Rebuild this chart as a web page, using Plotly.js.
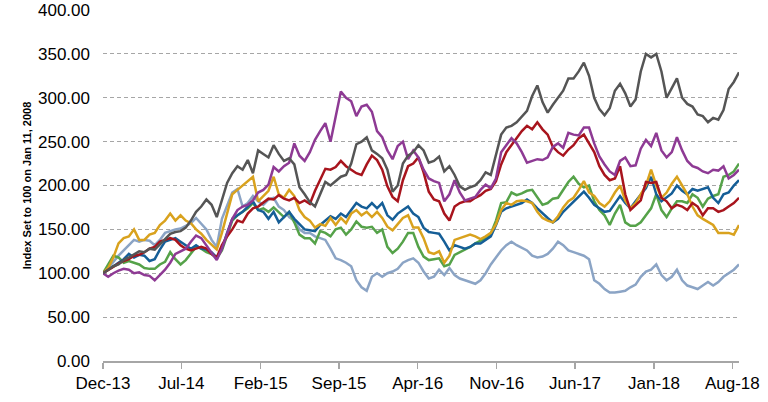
<!DOCTYPE html>
<html>
<head>
<meta charset="utf-8">
<script src="https://cdn.plot.ly/plotly-3.0.1.min.js"></script>
<style>
  html, body { margin: 0; padding: 0; background: #ffffff; }
  #chart { width: 768px; height: 402px; }
</style>
</head>
<body>
<div id="chart"></div>
<script>
// Sample schedule: every 14 days starting 1 Dec 2013 (124 observations)
const startDate = '2013-12-01';
const stepDays = 14;

const tickDates = ['2013-12-01','2014-07-01','2015-02-01','2015-09-01','2016-04-01',
                   '2016-11-01','2017-06-01','2018-01-01','2018-08-01'];
const tickLabels = ['Dec-13','Jul-14','Feb-15','Sep-15','Apr-16','Nov-16','Jun-17','Jan-18','Aug-18'];

const seriesGray = [100,104,108,110,115,118,122,125,124,128,127,133,138,145,147,148,152,160,170,176,
  184,178,164,185,203,214,222,218,229,214,240,236,232,246,236,228,231,224,198,190,
  181,176,191,204,200,205,210,212,225,247,250,255,240,236,231,218,193,200,225,234,
  238,246,240,226,228,233,216,222,212,199,195,198,200,206,215,212,234,258,266,268,
  272,278,285,302,314,295,283,292,300,308,322,322,330,340,325,300,287,280,288,308,
  316,305,290,298,330,350,346,350,330,300,311,322,300,293,290,281,279,272,277,275,
  286,310,318,329];

const seriesPurple = [100,96,100,103,105,104,100,101,98,97,92,98,104,112,122,125,128,136,143,140,
  132,124,115,128,145,162,172,176,178,183,192,195,201,221,216,222,226,248,234,228,
  238,252,262,271,250,280,307,300,296,279,290,292,284,262,255,240,230,245,250,230,
  240,232,218,208,205,203,182,190,206,192,183,185,187,195,201,197,208,238,246,254,
  248,238,226,228,230,229,232,244,248,243,260,258,257,266,266,248,233,224,216,212,
  228,232,222,223,242,252,245,260,240,232,238,255,240,228,222,220,216,214,218,217,
  222,208,212,218];

const seriesRed = [100,104,108,111,114,116,120,121,124,128,130,136,138,140,138,132,128,126,128,130,
  128,122,118,132,142,150,160,158,168,174,176,180,185,184,189,185,183,186,180,183,
  179,194,206,219,218,221,228,222,218,214,212,224,234,229,218,199,187,182,206,222,
  225,232,215,193,184,182,168,160,176,180,182,182,186,189,194,196,205,224,238,246,
  255,262,268,264,272,264,258,244,238,234,241,246,254,258,248,238,222,212,206,208,
  222,190,172,178,183,204,203,204,186,182,174,178,176,172,180,176,166,174,174,170,
  172,176,180,186];

const seriesBlue = [100,104,108,111,116,122,118,121,120,114,116,127,136,138,140,136,132,128,132,128,
  127,124,118,128,146,162,166,170,176,182,172,170,162,170,158,164,170,162,156,150,
  149,148,155,160,165,162,168,164,172,180,176,174,180,174,180,166,161,168,172,176,
  168,164,152,147,146,145,136,126,132,130,128,130,134,134,138,142,155,170,174,176,
  178,180,184,180,174,168,163,158,162,170,176,182,188,193,186,178,174,170,171,180,
  188,180,174,182,190,197,210,190,182,186,191,200,194,190,196,194,196,198,186,180,
  190,192,200,206];

const seriesGreen = [100,110,120,118,112,114,112,110,106,105,105,110,113,124,116,110,115,122,130,128,
  124,122,117,126,142,160,166,170,174,180,172,174,170,175,170,164,170,158,144,140,
  140,134,148,146,142,150,152,144,150,159,153,152,153,146,150,130,123,128,136,146,
  146,130,119,115,116,117,108,110,121,124,127,130,134,137,140,145,160,180,181,192,
  189,191,194,195,186,178,180,185,186,195,204,210,202,198,200,182,172,166,155,168,
  178,158,154,154,158,166,174,190,172,164,174,182,182,180,190,186,176,185,188,190,
  210,212,216,225];

const seriesGold = [100,106,118,134,140,142,150,138,138,144,146,155,160,168,160,166,160,157,150,145,
  138,132,127,146,168,190,195,200,204,210,182,188,194,210,190,186,195,188,172,164,
  160,152,156,154,163,155,163,157,168,172,166,170,164,170,163,153,149,156,163,166,
  152,152,140,124,122,125,112,120,138,140,142,144,142,139,142,146,156,172,180,178,
  182,183,182,180,170,163,160,158,165,175,182,186,195,205,192,188,180,176,182,192,
  200,183,174,180,190,200,218,200,186,192,202,210,200,190,176,166,162,158,155,146,
  146,146,144,155];

const seriesSteel = [100,106,113,120,126,133,138,136,138,137,132,138,146,148,150,151,154,157,163,157,
  150,138,130,162,178,192,196,176,180,188,182,178,184,186,176,172,164,160,150,146,
  146,142,140,138,128,117,115,112,108,92,84,80,96,100,96,100,102,105,112,115,
  117,112,102,94,96,104,98,106,98,94,92,90,88,92,100,110,118,126,132,136,
  132,129,126,120,118,119,122,128,136,132,126,124,122,120,116,92,88,82,78,78,
  79,80,84,87,96,102,104,110,98,92,96,104,92,86,84,82,86,90,86,90,
  96,100,104,110];

function buildDates(start, step, n) {
  const out = [];
  const t0 = new Date(start + 'T00:00:00Z').getTime();
  for (let i = 0; i < n; i++) {
    const d = new Date(t0 + i * step * 86400000);
    out.push(d.toISOString().slice(0, 10));
  }
  return out;
}
const dates = buildDates(startDate, stepDays, seriesGray.length);

const specs = [
  {y: seriesSteel,  color: '#8ba4c5'},
  {y: seriesGreen,  color: '#55a249'},
  {y: seriesBlue,   color: '#155e97'},
  {y: seriesGold,   color: '#d9a21e'},
  {y: seriesRed,    color: '#a8141d'},
  {y: seriesPurple, color: '#8e3a94'},
  {y: seriesGray,   color: '#555555'}
];

const traces = specs.map(s => ({
  type: 'scatter', mode: 'lines', x: dates, y: s.y,
  line: {color: s.color, width: 2.5},
  hoverinfo: 'skip'
}));

const layout = {
  width: 768, height: 402,
  margin: {l: 103, r: 29, t: 10, b: 41},
  paper_bgcolor: '#ffffff', plot_bgcolor: '#ffffff',
  showlegend: false,
  font: {family: '"Liberation Sans", Arial, sans-serif', color: '#000000', size: 17},
  xaxis: {
    type: 'date',
    range: ['2013-12-01', '2018-08-19'],
    tickvals: tickDates, ticktext: tickLabels,
    showgrid: false, zeroline: false,
    showline: true, linecolor: '#a6a6a6', linewidth: 1.5,
    ticks: 'outside', ticklen: 6, tickwidth: 1.5, tickcolor: '#a6a6a6',
    tickfont: {size: 17}
  },
  yaxis: {
    range: [0, 400], dtick: 50, tick0: 0, tickformat: '.2f',
    showgrid: true, gridcolor: '#a6a6a6', gridwidth: 1, griddash: '4px,3px',
    zeroline: false, showline: false, ticks: '',
    ticklabelstandoff: 12,
    tickfont: {size: 17},
    title: {text: 'Index Set to 100 on Jan 11, 2008',
            font: {size: 11, family: '"Liberation Sans", Arial, sans-serif', weight: 'bold'},
            standoff: 4}
  }
};

Plotly.newPlot('chart', traces, layout, {staticPlot: true, displayModeBar: false});
</script>
</body>
</html>
